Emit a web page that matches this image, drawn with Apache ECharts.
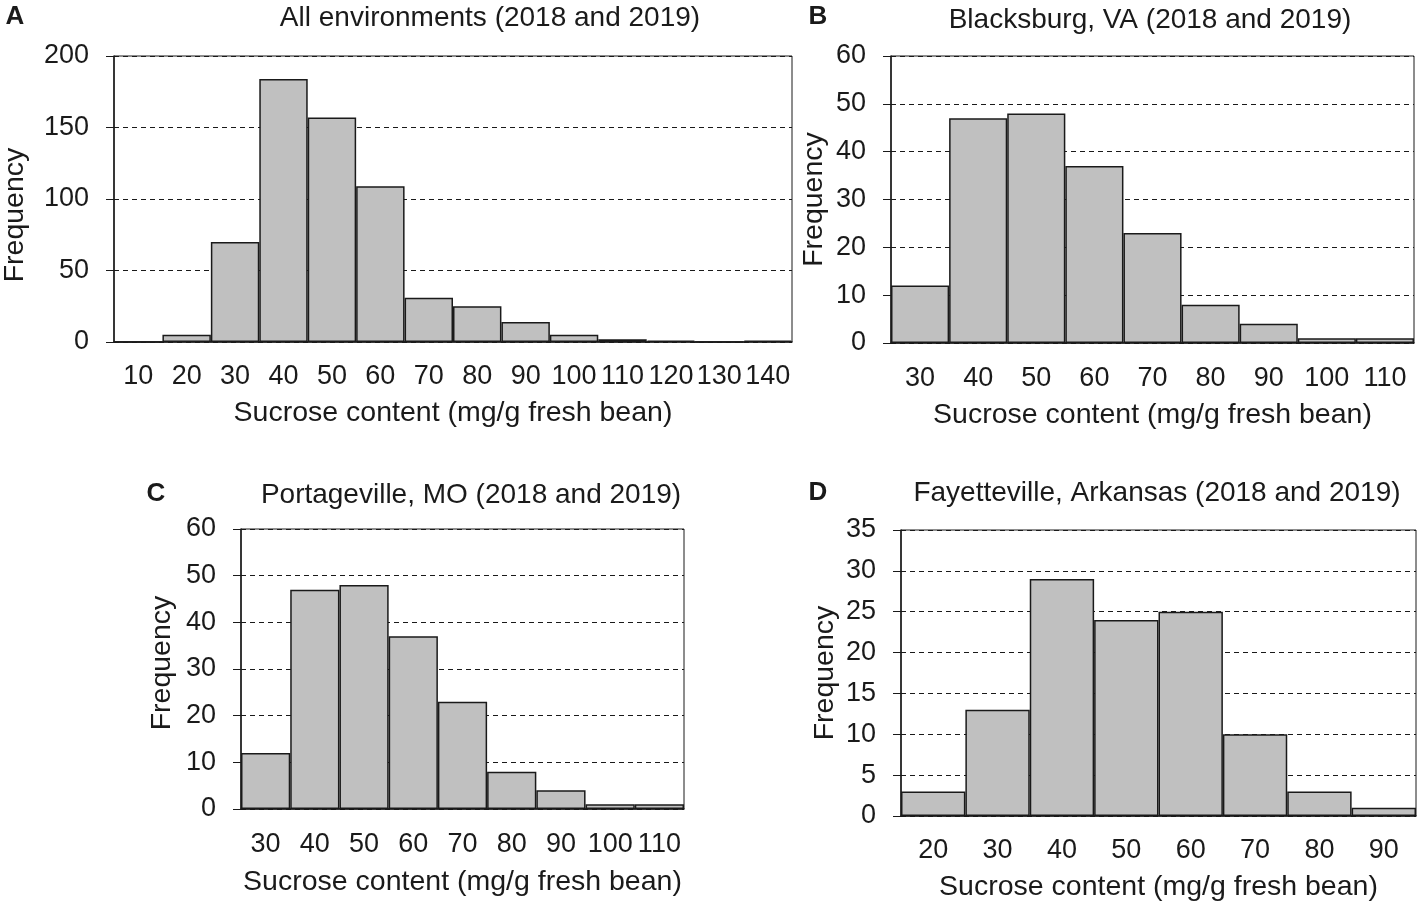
<!DOCTYPE html>
<html>
<head>
<meta charset="utf-8">
<script src="https://cdn.jsdelivr.net/npm/echarts@6/dist/echarts.min.js"></script>
<style>
  html, body { margin: 0; padding: 0; background: #fff; }
  #chart { width: 1421px; height: 906px; }
</style>
</head>
<body>
<div id="chart"></div>
<script>
// data
var binsA = ['10', '20', '30', '40', '50', '60', '70', '80', '90', '100', '110', '120', '130', '140'];
var freqA = [0, 5, 70, 184, 157, 109, 31, 25, 14, 5, 2, 1, 0, 1];

var binsB = ['30', '40', '50', '60', '70', '80', '90', '100', '110'];
var freqB = [12, 47, 48, 37, 23, 8, 4, 1, 1];

var binsC = ['30', '40', '50', '60', '70', '80', '90', '100', '110'];
var freqC = [12, 47, 48, 37, 23, 8, 4, 1, 1];

var binsD = ['20', '30', '40', '50', '60', '70', '80', '90'];
var freqD = [3, 13, 29, 24, 25, 10, 3, 1];

var titles = [
	'All environments (2018 and 2019)',
	'Blacksburg, VA (2018 and 2019)',
	'Portageville, MO (2018 and 2019)',
	'Fayetteville, Arkansas (2018 and 2019)'
];

var font = '"Liberation Sans", Arial, sans-serif';
var ink = '#1a1a1a';

// plot boxes: left, top, right, bottom (pixels)
var boxes = [
	[113, 56, 792, 342],
	[891, 56, 1414, 343],
	[241, 529, 684, 809],
	[901, 530, 1416, 816]
];
var yMax = [200, 60, 60, 35];
var yStep = [50, 10, 10, 5];
var yGap = [84, 62, 64, 61];
// shift of the "Frequency" label along the axis
var yPad = [[0, 32, 0, 0], [0, 0, 0, 0], [0, 0, 0, 12], [0, 0, 0, 0]];
var xGap = [57, 58, 59, 57];
var xMargin = [21, 22, 22, 21];

var allBins = [binsA, binsB, binsC, binsD];
var allFreq = [freqA, freqB, freqC, freqD];

var grids = [], xAxes = [], yAxes = [], series = [];
for (var i = 0; i < 4; i++) {
	var b = boxes[i];
	grids.push({
		left: b[0], top: b[1], width: b[2] - b[0], height: b[3] - b[1],
		show: true, borderColor: ink, borderWidth: 1, backgroundColor: 'transparent'
	});
	xAxes.push({
		type: 'category', gridIndex: i, data: allBins[i],
		name: 'Sucrose content (mg/g fresh bean)',
		nameLocation: 'middle', nameGap: xGap[i],
		nameTextStyle: { fontSize: 28.5, color: ink, fontFamily: font },
		axisLine: { lineStyle: { color: ink, width: 1.5 } },
		axisTick: { show: false },
		axisLabel: { interval: 0, fontSize: 27, color: ink, fontFamily: font, margin: xMargin[i] }
	});
	yAxes.push({
		type: 'value', gridIndex: i, min: 0, max: yMax[i], interval: yStep[i],
		name: 'Frequency', nameLocation: 'middle', nameGap: yGap[i],
		nameTextStyle: { fontSize: 28.5, color: ink, fontFamily: font, padding: yPad[i] },
		axisLine: { show: true, lineStyle: { color: ink, width: 1.5 } },
		axisTick: { show: true, length: 8, lineStyle: { color: ink } },
		axisLabel: { fontSize: 27, color: ink, fontFamily: font, margin: 25 },
		splitLine: { show: true, lineStyle: { color: ink, type: [5, 4], width: 1.2 } }
	});
	series.push({
		type: 'bar', xAxisIndex: i, yAxisIndex: i, data: allFreq[i],
		barWidth: '100%', barGap: '0%',
		itemStyle: { color: '#c0c0c0', borderColor: ink, borderWidth: 1.5 },
		silent: true
	});
}

var texts = [
	{ x: 490, y: 18, t: titles[0] },
	{ x: 1150, y: 20, t: titles[1] },
	{ x: 471, y: 495, t: titles[2] },
	{ x: 1157, y: 493, t: titles[3] }
];
var letters = [
	{ x: 15, y: 17, t: 'A' },
	{ x: 818, y: 17, t: 'B' },
	{ x: 156, y: 494, t: 'C' },
	{ x: 818, y: 493, t: 'D' }
];
var graphics = [];
texts.forEach(function(o) {
	graphics.push({
		type: 'text', x: o.x, y: o.y,
		style: { text: o.t, fill: ink, font: '28px ' + font, align: 'center', verticalAlign: 'middle' }
	});
});
letters.forEach(function(o) {
	graphics.push({
		type: 'text', x: o.x, y: o.y,
		style: { text: o.t, fill: ink, font: 'bold 26px ' + font, align: 'center', verticalAlign: 'middle' }
	});
});

var myChart = echarts.init(document.getElementById('chart'));
myChart.setOption({
	animation: false,
	backgroundColor: '#fff',
	grid: grids,
	xAxis: xAxes,
	yAxis: yAxes,
	series: series,
	graphic: graphics
});
</script>
</body>
</html>
